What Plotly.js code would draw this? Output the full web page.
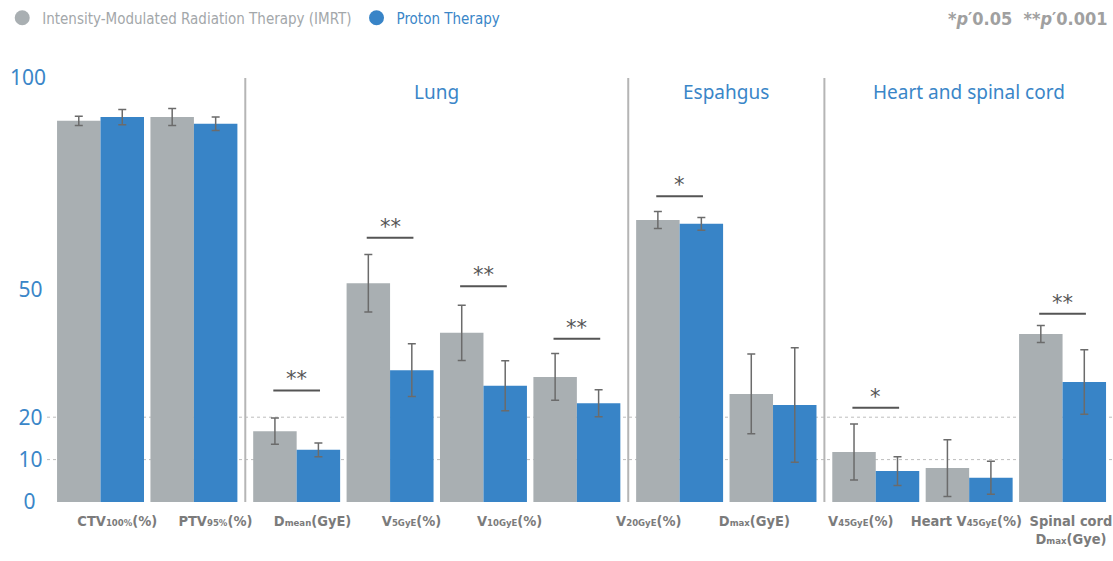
<!DOCTYPE html>
<html>
<head>
<meta charset="utf-8">
<script src="https://cdn.plot.ly/plotly-3.0.1.min.js"></script>
<style>html,body{margin:0;padding:0;background:#fff;}#chart{width:1113px;height:561px;}</style>
</head>
<body>
<div id="chart"></div>
<script>
// ---- data ----
const groups = ['CTV100%', 'PTV95%', 'Lung Dmean', 'Lung V5', 'Lung V10 (a)', 'Lung V10 (b)',
                'Esophagus V20', 'Esophagus Dmax', 'Heart V45', 'Heart V45 (2)', 'Spinal cord Dmax'];
const section = [0, 0, 1, 1, 1, 1, 2, 2, 3, 3, 3];
const imrt      = [89.9, 90.8, 16.7, 51.6, 39.9, 29.5, 66.5, 25.5, 11.8, 8.0, 39.6];
const imrtErr   = [1.1, 2.0, 3.1, 6.8, 6.5, 5.5, 2.0, 9.4, 6.6, 6.7, 2.0];
const proton    = [90.8, 89.2, 12.3, 31.1, 27.4, 23.3, 65.6, 22.9, 7.3, 5.7, 28.3];
const protonErr = [1.8, 1.6, 1.6, 6.2, 5.9, 3.2, 1.5, 13.5, 3.4, 3.9, 7.6];
const sectionTitles = ['', 'Lung', 'Espahgus', 'Heart and spinal cord'];
const sigGroup = [2, 3, 4, 5, 6, 8, 10];
const sigMark  = ['**', '**', '**', '**', '*', '*', '**'];
const sigLevel = [26.3, 62.3, 50.9, 38.5, 72.1, 22.2, 44.4];
const S = t => '<span style="font-size:9.5px">' + t + '</span>';
const tickLabels = ['CTV' + S('100%') + '(%)', 'PTV' + S('95%') + '(%)', 'D' + S('mean') + '(GyE)',
  'V' + S('5GyE') + '(%)', 'V' + S('10GyE') + '(%)', 'V' + S('20GyE') + '(%)', 'D' + S('max') + '(GyE)',
  'V' + S('45GyE') + '(%)', 'Heart V' + S('45GyE') + '(%)', 'Spinal cord<br>D' + S('max') + '(Gye)'];
const yTicks = [0, 10, 20, 50, 100];

// ---- layout helpers ----
const labelPos = [0.18, 1.23, 2.27, 3.33, 4.38, 5.87, 7.0, 8.14, 9.27, 10.39];
const pos = groups.map((g, i) => i + 0.1 * section[i]);
const GRAY = '#a9afb2', BLUE = '#3884c7', ERR = '#6b6b6b';
const narrow = '"DejaVu Sans Condensed", sans-serif';

const traces = [
  {type: 'bar', x: pos, y: imrt, name: 'IMRT', marker: {color: GRAY}, showlegend: false,
   error_y: {type: 'data', array: imrtErr, color: ERR, thickness: 1.5, width: 4}},
  {type: 'bar', x: pos, y: proton, name: 'Proton', marker: {color: BLUE}, showlegend: false,
   error_y: {type: 'data', array: protonErr, color: ERR, thickness: 1.5, width: 4}},
  {type: 'scatter', mode: 'markers', x: [null], y: [null], name: 'Intensity-Modulated Radiation Therapy (IMRT)',
   marker: {color: GRAY, size: 15, symbol: 'circle'}},
  {type: 'scatter', mode: 'markers', x: [null], y: [null], name: '<span style="color:#3a86c8">Proton Therapy</span>',
   marker: {color: BLUE, size: 15, symbol: 'circle'}}
];

const shapes = [];
[10, 20].forEach(v => shapes.push({type: 'line', xref: 'paper', x0: 0, x1: 1, yref: 'y', y0: v, y1: v,
  line: {color: '#bdbdbd', width: 1, dash: 'dot'}, layer: 'below'}));
for (let i = 1; i < pos.length; i++) {
  if (section[i] !== section[i - 1]) {
    const xm = (pos[i] + pos[i - 1]) / 2;
    shapes.push({type: 'line', x0: xm, x1: xm, y0: 0, y1: 100, line: {color: '#b5b5b5', width: 2}});
  }
}
const annotations = [];
sigGroup.forEach((g, k) => {
  shapes.push({type: 'line', x0: pos[g] - 0.25, x1: pos[g] + 0.25, y0: sigLevel[k], y1: sigLevel[k],
    line: {color: '#555', width: 2}});
  annotations.push({x: pos[g], y: sigLevel[k], text: sigMark[k], showarrow: false, yanchor: 'bottom', yshift: -3,
    font: {family: 'DejaVu Sans', size: 21, color: '#555'}});
});
for (let s = 1; s < sectionTitles.length; s++) {
  const xs = pos.filter((p, i) => section[i] === s);
  annotations.push({x: (Math.min(...xs) + Math.max(...xs)) / 2, y: 96.7, text: sectionTitles[s], showarrow: false,
    yanchor: 'middle', font: {family: '"Noto Sans", sans-serif', size: 19, color: '#3a86c8'}});
}
annotations.push({xref: 'paper', yref: 'paper', x: 0.997, y: 1.1415, xanchor: 'right', yanchor: 'middle',
  showarrow: false, text: '*<i>p</i>′0.05  **<i>p</i>′0.001',
  font: {family: narrow, size: 18, color: '#a0a0a0', weight: 'bold'}});

const yText = ['0\u2002', '10\u2009', '20\u2009', '50\u2009', '100'];

const layout = {
  width: 1113, height: 561,
  margin: {l: 47, r: 0, t: 78, b: 59},
  paper_bgcolor: '#fff', plot_bgcolor: '#fff',
  barmode: 'group', bargap: 0.069, bargroupgap: 0,
  showlegend: true,
  legend: {orientation: 'h', x: -0.042, xanchor: 'left', y: 1.1415, yanchor: 'middle',
    font: {family: narrow, size: 15, color: '#a3a7aa'}, itemclick: false},
  xaxis: {range: [-0.573, 10.84], showgrid: false, zeroline: false, showline: false, ticks: '',
    tickmode: 'array', tickvals: labelPos, ticktext: tickLabels, tickangle: 0,
    ticklabelstandoff: 8, ticklabeloverflow: 'allow',
    tickfont: {family: narrow, size: 14.5, color: '#7b7b7b', weight: 'bold'}},
  yaxis: {range: [0, 100], showgrid: false, zeroline: false, showline: false, ticks: '',
    tickmode: 'array', tickvals: yTicks, ticktext: yText,
    tickfont: {family: '"Noto Sans", sans-serif', size: 21, color: '#3a86c8'}},
  shapes: shapes,
  annotations: annotations
};

Plotly.newPlot('chart', traces, layout, {displayModeBar: false, staticPlot: true});
</script>
</body>
</html>
